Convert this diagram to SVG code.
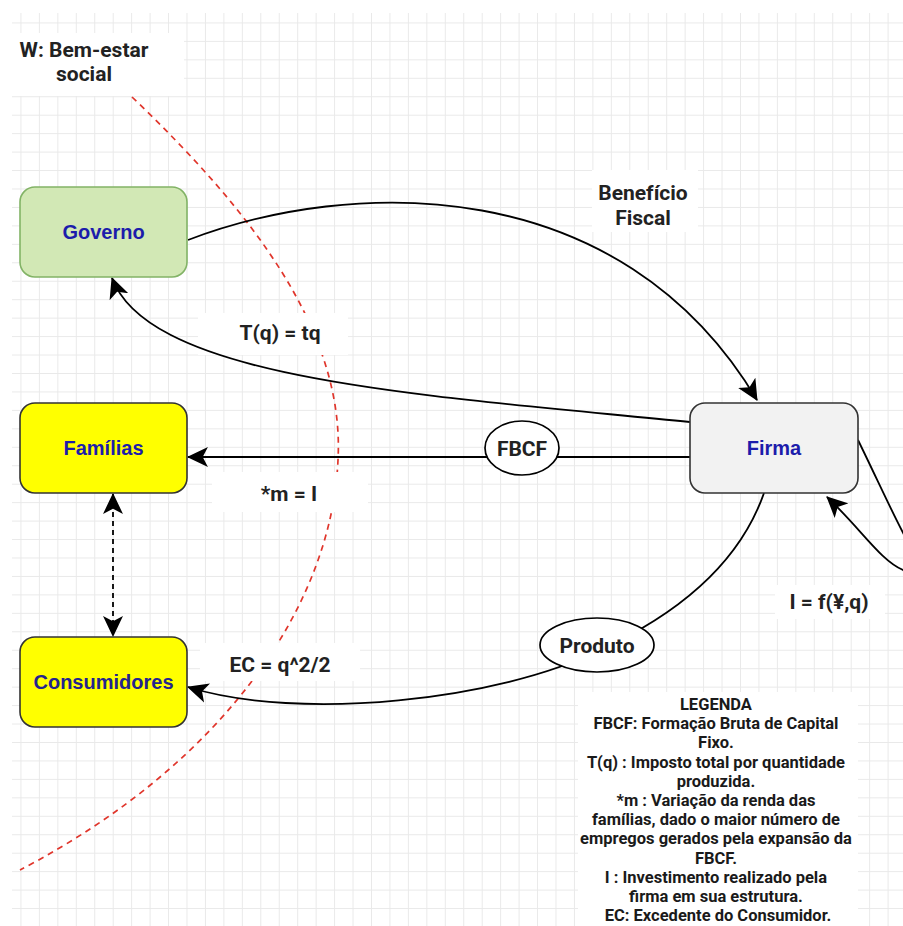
<svg xmlns="http://www.w3.org/2000/svg" width="903" height="926" viewBox="0 0 903 926">
  <style>
    .edge { fill: none; stroke: #000; stroke-width: 1.8; }
    .lbl { font-family: Roboto, "Liberation Sans", Arial, sans-serif; font-weight: bold; font-size: 21px; fill: #222; text-anchor: middle; }
    .leg { font-family: Roboto, "Liberation Sans", Arial, sans-serif; font-weight: bold; font-size: 16.5px; fill: #1a1a1a; text-anchor: middle; }
    .node { stroke-width: 1.6; }
    .ntext { font-family: "Liberation Sans", Arial, sans-serif; font-weight: bold; font-size: 20px; text-anchor: middle; dominant-baseline: central; fill: #1c1cab; }
    .bg { fill: #fff; }
  </style>
  <defs>
    <pattern id="grid" x="2" y="4" width="18.45" height="18.45" patternUnits="userSpaceOnUse">
      <path d="M0 0.5 H18.45 M0.5 0 V18.45" fill="none" stroke="#e9e9e9" stroke-width="1"/>
    </pattern>
    <marker id="arr" viewBox="0 0 20 20" refX="19" refY="10" markerWidth="21" markerHeight="21" markerUnits="userSpaceOnUse" orient="auto-start-reverse">
      <path d="M0,0.5 L20,10 L0,19.5 L5,10 Z" fill="#000"/>
    </marker>
  </defs>

  <rect x="0" y="0" width="903" height="926" fill="#fff"/>
  <rect x="12" y="13" width="891" height="913" fill="url(#grid)"/>

  <!-- W boundary (red dashed) -->
  <path d="M132,97 C250,210 345,330 338,460 C332,600 230,760 20,870" fill="none" stroke="#e0352b" stroke-width="1.7" stroke-dasharray="6,5"/>

  <!-- label backgrounds -->
  <g id="label-backgrounds">
    <rect class="bg" x="12" y="33" width="172" height="63"/>
    <rect class="bg" x="592" y="170" width="106" height="62"/>
    <rect class="bg" x="198" y="313" width="150" height="42"/>
    <rect class="bg" x="212" y="472" width="156" height="40"/>
    <rect class="bg" x="200" y="643" width="160" height="38"/>
    <rect class="bg" x="775" y="585" width="110" height="34"/>
    <rect class="bg" x="578" y="692" width="280" height="234"/>
  </g>

  <!-- connectors -->
  <g id="connectors">
    <path class="edge" d="M188,240 C350,178 620,170 757,400" marker-end="url(#arr)"/>
    <path class="edge" d="M690,422 C420,395 150,380 112,278" marker-end="url(#arr)"/>
    <path class="edge" d="M690,457 L188,457" marker-end="url(#arr)"/>
    <path class="edge" d="M764,493 Q730,590 600,650 C500,700 300,722 188,687" marker-end="url(#arr)"/>
    <path class="edge" d="M113,494 L113,636" stroke-dasharray="5,4" marker-start="url(#arr)" marker-end="url(#arr)"/>
    <path class="edge" d="M858,440 C880,485 900,530 915,555 C925,575 912,578 903,570 C880,560 862,530 827,497" marker-end="url(#arr)"/>
  </g>

  <!-- edge labels -->
  <g id="edge-labels">
    <text class="lbl"><tspan x="84" y="57">W: Bem-estar</tspan><tspan x="84" y="81">social</tspan></text>
    <text class="lbl"><tspan x="643" y="200">Benefício</tspan><tspan x="643" y="225">Fiscal</tspan></text>
    <text class="lbl" x="280" y="340">T(q) = tq</text>
    <text class="lbl" x="289" y="501">*m = I</text>
    <text class="lbl" x="280" y="672">EC = q^2/2</text>
    <text class="lbl" x="829" y="609">I = f(¥,q)</text>
  </g>

  <g id="fbcf">
    <ellipse cx="522" cy="448" rx="37" ry="27" fill="#fff" stroke="#000" stroke-width="1.7"/>
    <text class="lbl" x="522" y="456">FBCF</text>
  </g>
  <g id="produto">
    <ellipse cx="597" cy="645" rx="57" ry="27" fill="#fff" stroke="#000" stroke-width="1.7"/>
    <text class="lbl" x="597" y="653">Produto</text>
  </g>

  <g id="governo">
    <rect class="node" x="20" y="187" width="167" height="90" rx="15" fill="#d2e8b5" stroke="#82b366"/>
    <text class="ntext" x="103.5" y="232">Governo</text>
  </g>
  <g id="familias">
    <rect class="node" x="20" y="403" width="167" height="90" rx="15" fill="#ffff00" stroke="#333"/>
    <text class="ntext" x="103.5" y="448">Famílias</text>
  </g>
  <g id="consumidores">
    <rect class="node" x="20" y="637" width="167" height="90" rx="15" fill="#ffff00" stroke="#333"/>
    <text class="ntext" x="103.5" y="682" style="fill:#24248e">Consumidores</text>
  </g>
  <g id="firma">
    <rect class="node" x="690" y="403" width="168" height="90" rx="15" fill="#f2f2f2" stroke="#333"/>
    <text class="ntext" x="774" y="448">Firma</text>
  </g>

  <g id="legenda">
    <text class="leg">
      <tspan x="718" y="710">LEGENDA</tspan>
      <tspan x="718" y="729.2">FBCF: Formação Bruta de Capital</tspan>
      <tspan x="718" y="748.4">Fixo.</tspan>
      <tspan x="718" y="767.6">T(q) : Imposto total por quantidade</tspan>
      <tspan x="718" y="786.8">produzida.</tspan>
      <tspan x="718" y="806">*m : Variação da renda das</tspan>
      <tspan x="718" y="825.2">famílias, dado o maior número de</tspan>
      <tspan x="718" y="844.4">empregos gerados pela expansão da</tspan>
      <tspan x="718" y="863.6">FBCF.</tspan>
      <tspan x="718" y="882.8">I : Investimento realizado pela</tspan>
      <tspan x="718" y="902">firma em sua estrutura.</tspan>
      <tspan x="718" y="921.2">EC: Excedente do Consumidor.</tspan>
    </text>
  </g>
</svg>
